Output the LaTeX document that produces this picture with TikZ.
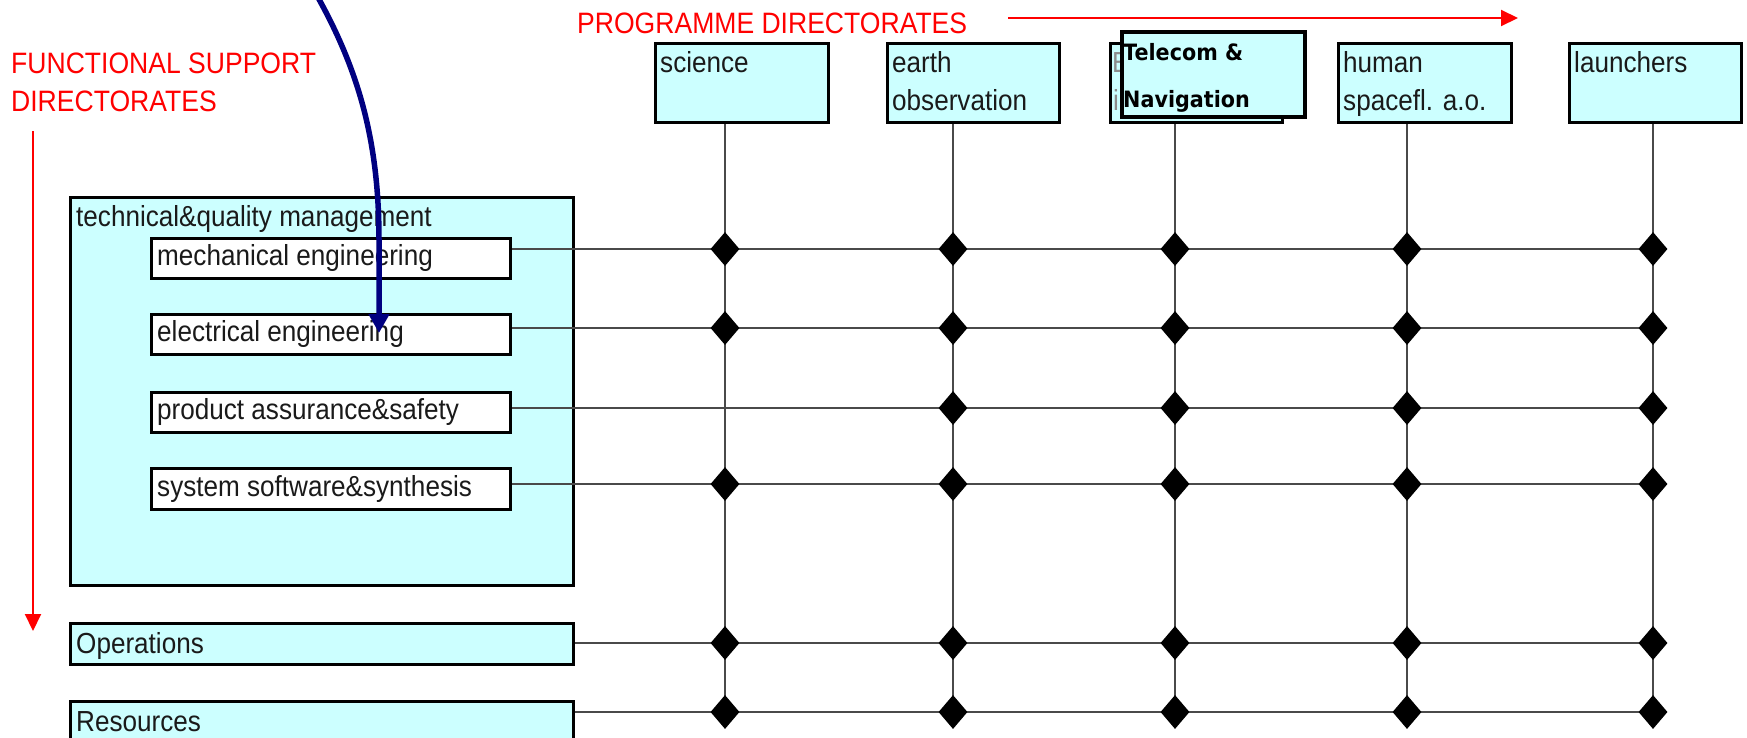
\documentclass[tikz,border=0pt]{standalone}
\usepackage{fontspec}
\setmainfont{Liberation Sans}[FakeStretch=0.9]
\newfontfamily\telfont{DejaVu Sans}[FakeStretch=0.92]
\usetikzlibrary{arrows.meta,shapes.geometric}
\definecolor{boxcyan}{HTML}{CCFFFF}
\definecolor{navyblue}{HTML}{000080}
\definecolor{gridgray}{HTML}{4A4A4A}
\definecolor{txtgray}{HTML}{1A1A1A}
\tikzset{
  cyanbox/.style={rectangle, draw=black, line width=3pt, fill=boxcyan, inner sep=0pt, anchor=north west},
  whitebox/.style={rectangle, draw=black, line width=3pt, fill=white, inner sep=0pt, anchor=north west},
  telbox/.style={rectangle, draw=black, line width=4pt, fill=boxcyan, inner sep=0pt, anchor=north west},
  lbl/.style={anchor=base west, inner sep=0pt, text=txtgray, font=\fontsize{29}{38}\selectfont},
  hidlbl/.style={lbl, text=black!45},
  tellbl/.style={anchor=base west, inner sep=0pt, text=black, font=\telfont\bfseries\fontsize{22.5}{48}\selectfont},
  redlbl/.style={anchor=base west, inner sep=0pt, text=red, font=\fontsize{29.5}{38}\selectfont},
  redarrow/.style={draw=red, line width=2pt, -{Triangle[length=17pt,width=16pt]}},
  gridline/.style={draw=gridgray, line width=2.2pt},
  dmd/.style={diamond, fill=black, draw=none, inner sep=0pt, minimum width=29pt, minimum height=34pt},
  bluearrow/.style={draw=navyblue, line width=5.5pt, -{Triangle[length=19pt,width=20pt]}}
}
\begin{document}
\begin{tikzpicture}[x=1pt,y=-1pt]
\useasboundingbox (0,0) rectangle (1747,737);

% red headings and arrows
\node[redlbl] (fs1) at (11,73) {FUNCTIONAL SUPPORT};
\node[redlbl] (fs2) at (11,111) {DIRECTORATES};
\node[redlbl] (pd) at (577,33) {PROGRAMME DIRECTORATES};
\coordinate (ravs) at (33,131);
\coordinate (rave) at (33,631);
\draw[redarrow] (ravs) -- (rave);
\coordinate (rahs) at (1008,18);
\coordinate (rahe) at (1518,18);
\draw[redarrow] (rahs) -- (rahe);

% functional support boxes
\node[cyanbox, minimum width=503, minimum height=388] (tq) at (69,196) {};
\node[lbl] (tq-l) at (76,226) {technical\&quality management};
\node[whitebox, minimum width=359, minimum height=40] (mech) at (150,237) {};
\node[whitebox, minimum width=359, minimum height=40] (elec) at (150,313) {};
\node[whitebox, minimum width=359, minimum height=40] (prod) at (150,391) {};
\node[whitebox, minimum width=359, minimum height=41] (sys) at (150,467) {};
\node[lbl] (mech-l) at (157,265) {mechanical engineering};
\node[lbl] (elec-l) at (157,341) {electrical engineering};
\node[lbl] (prod-l) at (157,419) {product assurance\&safety};
\node[lbl] (sys-l) at (157,496) {system software\&synthesis};
\node[cyanbox, minimum width=503, minimum height=41] (ops) at (69,622) {};
\node[lbl] (ops-l) at (76,653) {Operations};
\node[cyanbox, minimum width=503, minimum height=60] (res) at (69,700) {};
\node[lbl] (res-l) at (76,731) {Resources};

% programme boxes
\node[cyanbox, minimum width=173, minimum height=79] (sci) at (654,42) {};
\node[cyanbox, minimum width=172, minimum height=79] (eo) at (886,42) {};
\node[cyanbox, minimum width=172, minimum height=79] (hid) at (1109,42) {};
\node[cyanbox, minimum width=173, minimum height=79] (hum) at (1337,42) {};
\node[cyanbox, minimum width=172, minimum height=79] (lau) at (1568,42) {};
\node[lbl] (sci-l) at (660,72) {science};
\node[lbl] (eo-l1) at (892,72) {earth};
\node[lbl] (eo-l2) at (892,110) {observation};
\node[hidlbl] (hid-l1) at (1112,72) {E};
\node[hidlbl] (hid-l2) at (1113,110) {i};
\node[lbl] (hum-l1) at (1343,72) {human};
\node[lbl] (hum-l2) at (1343,110) {spacefl. a.o.};
\node[lbl] (lau-l) at (1574,72) {launchers};
\node[telbox, minimum width=183, minimum height=85] (tel) at (1120,30) {};
\node[tellbl] (tel-l1) at (1123,60) {Telecom \&};
\node[tellbl] (tel-l2) at (1123,107) {Navigation};

% grid coordinates
\coordinate (c1) at (725,0);
\coordinate (c2) at (953,0);
\coordinate (c3) at (1175,0);
\coordinate (c4) at (1407,0);
\coordinate (c5) at (1653,0);
\coordinate (r1) at (0,249);
\coordinate (r2) at (0,328);
\coordinate (r3) at (0,408);
\coordinate (r4) at (0,484);
\coordinate (r5) at (0,643);
\coordinate (r6) at (0,712);

% vertical lines
\draw[gridline] (c1 |- sci.south) -- (c1 |- r6);
\draw[gridline] (c2 |- eo.south) -- (c2 |- r6);
\draw[gridline] (c3 |- hid.south) -- (c3 |- r6);
\draw[gridline] (c4 |- hum.south) -- (c4 |- r6);
\draw[gridline] (c5 |- lau.south) -- (c5 |- r6);

% horizontal lines
\draw[gridline] (mech.east |- r1) -- (c5 |- r1);
\draw[gridline] (elec.east |- r2) -- (c5 |- r2);
\draw[gridline] (prod.east |- r3) -- (c5 |- r3);
\draw[gridline] (sys.east |- r4) -- (c5 |- r4);
\draw[gridline] (ops.east |- r5) -- (c5 |- r5);
\draw[gridline] (res.east |- r6) -- (c5 |- r6);

% diamonds
\foreach \j in {1,2,4,5,6}{
  \foreach \i in {1,2,3,4,5}{
    \node[dmd] (d-\i-\j) at (c\i |- r\j) {};
  }
}
\foreach \i in {2,3,4,5}{
  \node[dmd] (d-\i-3) at (c\i |- r3) {};
}

% blue arrow
\coordinate (bstart) at (302,-30);
\coordinate (btip) at (379,333);
\draw[bluearrow] (bstart) .. controls (354,55) and (379,130) .. (379,240) -- (btip);
\end{tikzpicture}
\end{document}
